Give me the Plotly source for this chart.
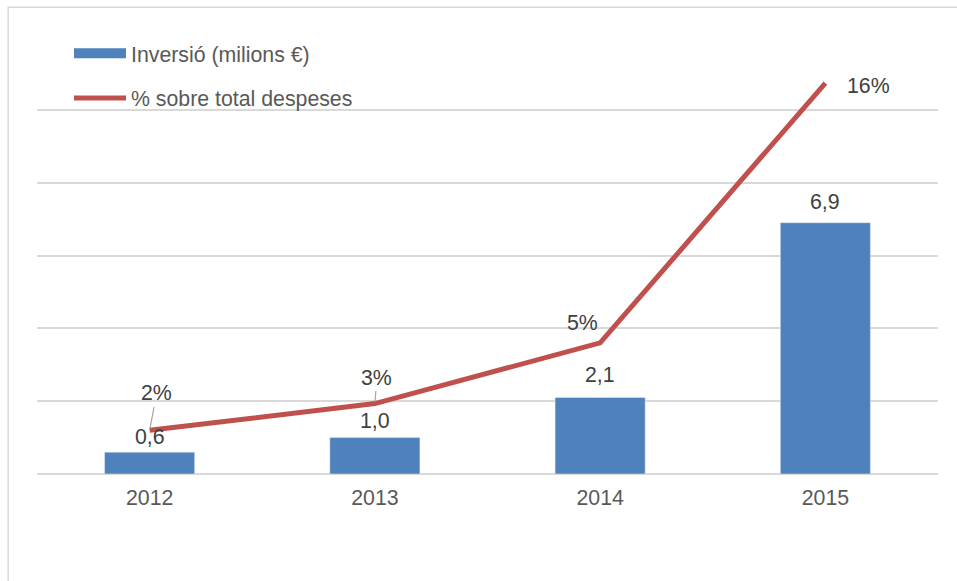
import plotly.graph_objects as go

# Data
years = [2012, 2013, 2014, 2015]
inversio = [0.6, 1.0, 2.1, 6.9]          # milions €
percent_total = [1.8, 2.9, 5.4, 16.1]    # % sobre total despeses

bar_name = "Inversió (milions €)"
line_name = "% sobre total despeses"

# Label placement (pixel offsets from each mark)
bar_label_shift = [1, 3, 9, 7]
pct_label_dx = [7, 2, -18, 43]
pct_label_dy = [-37, -26, -20, 3]
pct_leader = [True, True, False, False]

BLUE = "#4F81BD"
RED = "#C0504D"
GRID = "#D9D9D9"
TXT = "#404040"
FONT = "Liberation Sans, Arial, sans-serif"
FS = 21.3

fig = go.Figure()

fig.add_trace(go.Bar(
    x=years, y=inversio, name=bar_name, marker_color=BLUE,
    width=0.4, showlegend=False, yaxis="y",
))
fig.add_trace(go.Scatter(
    x=years, y=percent_total, name=line_name, mode="lines",
    line=dict(color=RED, width=5), yaxis="y2", showlegend=False,
))

# Legend entries (wide swatches)
fig.add_trace(go.Scatter(
    x=[None], y=[None], name=bar_name, mode="lines",
    line=dict(color=BLUE, width=10), legendgroup="a",
))
fig.add_trace(go.Scatter(
    x=[None], y=[None], name=line_name, mode="lines",
    line=dict(color=RED, width=5), legendgroup="b",
))

annotations = []
for yr, v, s in zip(years, inversio, bar_label_shift):
    annotations.append(dict(
        x=yr, y=v, xref="x", yref="y", text=f"{v:.1f}".replace(".", ","),
        showarrow=False, yanchor="bottom", yshift=s,
        font=dict(family=FONT, size=FS, color=TXT),
    ))
for yr, v, dx, dy, lead in zip(years, percent_total, pct_label_dx, pct_label_dy, pct_leader):
    txt = f"{v:.0f}%"
    if lead:
        annotations.append(dict(
            x=yr, y=v, xref="x", yref="y2", text=txt,
            showarrow=True, arrowhead=0, arrowwidth=1.2, arrowcolor="#A6A6A6",
            ax=dx, ay=dy, standoff=2,
            font=dict(family=FONT, size=FS, color=TXT),
        ))
    else:
        annotations.append(dict(
            x=yr, y=v, xref="x", yref="y2", text=txt, showarrow=False,
            xshift=dx, yshift=-dy,
            font=dict(family=FONT, size=FS, color=TXT),
        ))

fig.update_layout(
    width=957, height=581,
    margin=dict(l=37, r=19, t=37, b=107),
    paper_bgcolor="white", plot_bgcolor="white",
    font=dict(family=FONT, size=FS, color="#595959"),
    xaxis=dict(
        range=[years[0] - 0.5, years[-1] + 0.5],
        tickmode="array", tickvals=years, ticktext=[str(y) for y in years],
        showgrid=False, showline=False, ticks="", zeroline=False,
        ticklabelstandoff=9,
        tickfont=dict(size=FS, color="#595959"),
    ),
    yaxis=dict(
        range=[0, 12], dtick=2, showgrid=True, gridcolor=GRID, gridwidth=1.5,
        zeroline=True, zerolinecolor=GRID, zerolinewidth=1.5,
        showticklabels=False, ticks="",
    ),
    yaxis2=dict(
        range=[0, 18], overlaying="y", side="right",
        showgrid=False, zeroline=False, showticklabels=False, ticks="",
    ),
    legend=dict(
        x=0.0355, y=1.0092, xanchor="left", yanchor="top",
        bgcolor="rgba(0,0,0,0)", itemwidth=52,
        font=dict(family=FONT, size=FS, color="#595959"),
        traceorder="grouped", tracegroupgap=14,
    ),
    annotations=annotations,
    shapes=[dict(
        type="rect", xref="paper", yref="paper",
        x0=-0.032, x1=1.03, y0=-0.3, y1=1.068,
        line=dict(color=GRID, width=1.5), fillcolor="rgba(0,0,0,0)", layer="below",
    )],
)

fig.write_html("out.html")
